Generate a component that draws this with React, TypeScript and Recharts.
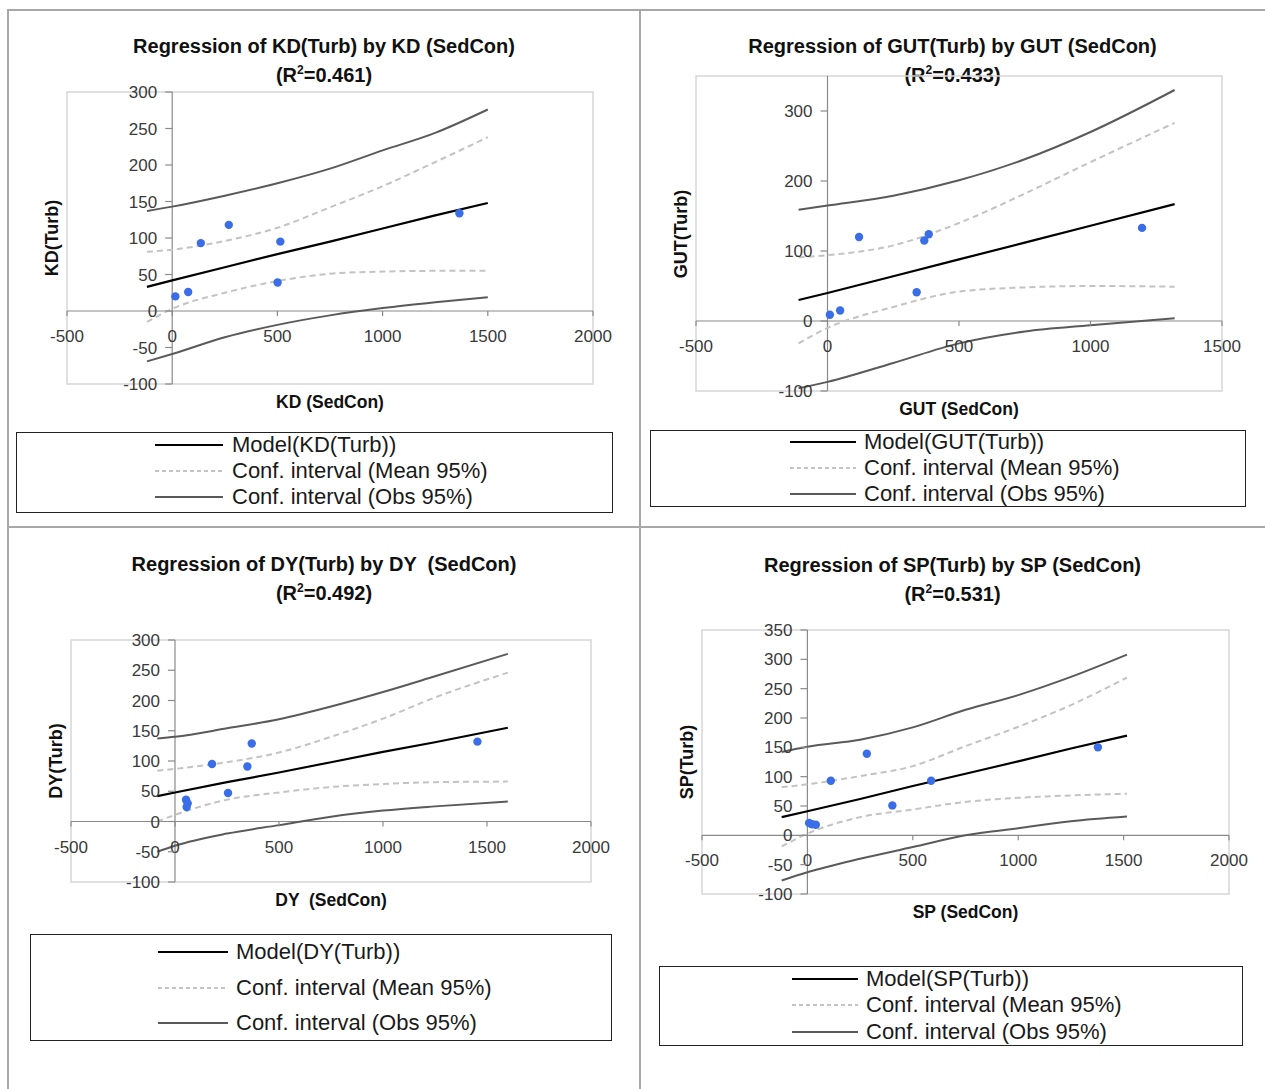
import React from "react";
import {
  ComposedChart,
  Line,
  Scatter,
  XAxis,
  YAxis,
  ReferenceArea,
  ReferenceLine,
  ReferenceDot,
} from "recharts";

const FONT = '"Liberation Sans", Arial, sans-serif';
const BLUE = "#3a6ee8";
const AXIS = "#8a8a8a";
const FRAME = "#a8a8a8";

// ---- KD ----
const kdCurveX = [-120, 0, 250, 500, 750, 1000, 1250, 1500];
const kdModel = [33, 42, 60, 78, 95, 113, 131, 148];
const kdMeanUpper = [81, 84, 96, 114, 142, 171, 204, 238];
const kdMeanLower = [-15, 3, 25, 41, 51, 54, 55, 55];
const kdObsUpper = [137, 143, 158, 175, 195, 220, 244, 276];
const kdObsLower = [-69, -59, -36, -19, -6, 4, 12, 19];
const kdPointX = [15, 76, 136, 269, 514, 501, 1365];
const kdPointY = [20, 26, 93, 118, 95, 39, 134];

// ---- GUT ----
const gutCurveX = [-110, 0, 250, 500, 750, 1000, 1320];
const gutModel = [30, 40, 64, 88, 112, 136, 167];
const gutMeanUpper = [91, 94, 108, 140, 182, 227, 283];
const gutMeanLower = [-32, -10, 20, 42, 48, 50, 49];
const gutObsUpper = [159, 165, 179, 201, 231, 270, 330];
const gutObsLower = [-96, -87, -60, -32, -15, -6, 4];
const gutPointX = [9, 48, 120, 339, 368, 385, 1196];
const gutPointY = [9, 15, 120, 41, 115, 124, 133];

// ---- DY ----
const dyCurveX = [-85, 0, 250, 500, 750, 1000, 1250, 1600];
const dyModel = [42, 48, 65, 81, 98, 115, 131, 155];
const dyMeanUpper = [84, 87, 98, 114, 140, 170, 205, 246];
const dyMeanLower = [0, 11, 36, 48, 57, 62, 65, 66];
const dyObsUpper = [137, 140, 154, 169, 190, 214, 240, 277];
const dyObsLower = [-50, -40, -20, -6, 8, 18, 25, 33];
const dyPointX = [53, 61, 56, 178, 255, 348, 369, 1454];
const dyPointY = [36, 30, 24, 95, 47, 91, 129, 132];

// ---- SP ----
const spCurveX = [-122, 0, 250, 500, 750, 1000, 1250, 1516];
const spModel = [31, 41, 62, 84, 105, 126, 148, 170];
const spMeanUpper = [82, 87, 101, 118, 152, 185, 222, 269];
const spMeanLower = [-19, 3, 31, 44, 57, 64, 68, 71];
const spObsUpper = [142, 151, 163, 184, 214, 239, 270, 308];
const spObsLower = [-77, -63, -40, -20, 0, 12, 24, 32];
const spPointX = [8, 22, 40, 111, 282, 403, 587, 1378];
const spPointY = [21, 19, 18, 93, 139, 51, 93, 150];

const ticks2000 = [-500, 0, 500, 1000, 1500, 2000];
const ticks1500 = [-500, 0, 500, 1000, 1500];
const yTicks300 = [-100, -50, 0, 50, 100, 150, 200, 250, 300];
const yTicks350 = [-100, -50, 0, 50, 100, 150, 200, 250, 300, 350];
const yTicksGut = [-100, 0, 100, 200, 300];

const xy = (xs: number[], ys: number[]) => xs.map((x, i) => ({ x, y: ys[i] }));

const panels = [
  {
    key: "KD",
    title: "Regression of KD(Turb) by KD (SedCon)",
    r2: "0.461",
    xLabel: "KD (SedCon)",
    yLabel: "KD(Turb)",
    model: xy(kdCurveX, kdModel),
    meanU: xy(kdCurveX, kdMeanUpper),
    meanL: xy(kdCurveX, kdMeanLower),
    obsU: xy(kdCurveX, kdObsUpper),
    obsL: xy(kdCurveX, kdObsLower),
    points: xy(kdPointX, kdPointY),
    xDomain: [-500, 2000],
    yDomain: [-100, 300],
    xTicks: ticks2000,
    yTicks: yTicks300,
    box: { l: 67, t: 92, r: 593, b: 384 },
    panel: { l: 8, r: 640, titleY: 46 },
    legend: { l: 16, t: 432, r: 613, b: 513, rows: [445, 471, 497], lineL: 155, lineR: 223, textL: 232 },
  },
  {
    key: "GUT",
    title: "Regression of GUT(Turb) by GUT (SedCon)",
    r2: "0.433",
    xLabel: "GUT (SedCon)",
    yLabel: "GUT(Turb)",
    model: xy(gutCurveX, gutModel),
    meanU: xy(gutCurveX, gutMeanUpper),
    meanL: xy(gutCurveX, gutMeanLower),
    obsU: xy(gutCurveX, gutObsUpper),
    obsL: xy(gutCurveX, gutObsLower),
    points: xy(gutPointX, gutPointY),
    xDomain: [-500, 1500],
    yDomain: [-100, 350],
    xTicks: ticks1500,
    yTicks: yTicksGut,
    box: { l: 696, t: 76, r: 1222, b: 391 },
    panel: { l: 640, r: 1265, titleY: 46 },
    legend: { l: 650, t: 430, r: 1246, b: 507, rows: [442, 468, 494], lineL: 790, lineR: 856, textL: 864 },
  },
  {
    key: "DY",
    title: "Regression of DY(Turb) by DY  (SedCon)",
    r2: "0.492",
    xLabel: "DY  (SedCon)",
    yLabel: "DY(Turb)",
    model: xy(dyCurveX, dyModel),
    meanU: xy(dyCurveX, dyMeanUpper),
    meanL: xy(dyCurveX, dyMeanLower),
    obsU: xy(dyCurveX, dyObsUpper),
    obsL: xy(dyCurveX, dyObsLower),
    points: xy(dyPointX, dyPointY),
    xDomain: [-500, 2000],
    yDomain: [-100, 300],
    xTicks: ticks2000,
    yTicks: yTicks300,
    box: { l: 71, t: 640, r: 591, b: 882 },
    panel: { l: 8, r: 640, titleY: 564 },
    legend: { l: 30, t: 934, r: 612, b: 1041, rows: [952, 988, 1023], lineL: 158, lineR: 228, textL: 236 },
  },
  {
    key: "SP",
    title: "Regression of SP(Turb) by SP (SedCon)",
    r2: "0.531",
    xLabel: "SP (SedCon)",
    yLabel: "SP(Turb)",
    model: xy(spCurveX, spModel),
    meanU: xy(spCurveX, spMeanUpper),
    meanL: xy(spCurveX, spMeanLower),
    obsU: xy(spCurveX, spObsUpper),
    obsL: xy(spCurveX, spObsLower),
    points: xy(spPointX, spPointY),
    xDomain: [-500, 2000],
    yDomain: [-100, 350],
    xTicks: ticks2000,
    yTicks: yTicks350,
    box: { l: 702, t: 630, r: 1229, b: 894 },
    panel: { l: 640, r: 1265, titleY: 565 },
    legend: { l: 659, t: 966, r: 1243, b: 1046, rows: [979, 1005, 1032], lineL: 792, lineR: 858, textL: 866 },
  },
];

const seriesStyle: Record<string, { stroke: string; width: number; dash?: string }> = {
  model: { stroke: "#000000", width: 2.2 },
  mean: { stroke: "#c3c3c3", width: 2, dash: "6 4" },
  obs: { stroke: "#5a5a5a", width: 2 },
};

const M = { top: 20, right: 30, bottom: 50, left: 60 };

const centered = (left: number, top: number, size: number, bold: boolean, rotate = false): React.CSSProperties => ({
  position: "absolute",
  left,
  top,
  transform: rotate ? "translate(-50%,-50%) rotate(-90deg)" : "translate(-50%,-50%)",
  fontFamily: FONT,
  fontWeight: bold ? "bold" : "normal",
  fontSize: size,
  whiteSpace: "pre",
  color: "#111",
});

function Panel({ p }: { p: (typeof panels)[number] }) {
  const { box, panel, legend } = p;
  const w = box.r - box.l + M.left + M.right;
  const h = box.b - box.t + M.top + M.bottom;
  const titleCx = (panel.l + panel.r) / 2;
  const legendLabels = [`Model(${p.key}(Turb))`, "Conf. interval (Mean 95%)", "Conf. interval (Obs 95%)"];
  const legendKinds = ["model", "mean", "obs"];

  const curve = (data: { x: number; y: number }[], kind: string, name: string, type: "linear" | "monotone") => (
    <Line
      data={data}
      dataKey="y"
      name={name}
      type={type}
      dot={false}
      activeDot={false}
      stroke={seriesStyle[kind].stroke}
      strokeWidth={seriesStyle[kind].width}
      strokeDasharray={seriesStyle[kind].dash}
      isAnimationActive={false}
    />
  );

  return (
    <>
      <div style={centered(titleCx, panel.titleY, 20, true)}>{p.title}</div>
      <div style={centered(titleCx, panel.titleY + 29, 20, true)}>
        (R<sup style={{ fontSize: 12 }}>2</sup>={p.r2})
      </div>
      <div style={{ position: "absolute", left: box.l - M.left, top: box.t - M.top }}>
        <ComposedChart width={w} height={h} margin={M}>
          <XAxis type="number" dataKey="x" domain={p.xDomain} allowDataOverflow hide />
          <YAxis type="number" dataKey="y" domain={p.yDomain} allowDataOverflow hide />
          <ReferenceArea x1={p.xDomain[0]} x2={p.xDomain[1]} y1={p.yDomain[0]} y2={p.yDomain[1]} fill="none" stroke="#d6d6d6" strokeWidth={1.5} ifOverflow="visible" />
          <ReferenceLine y={0} stroke={AXIS} strokeWidth={1.2} />
          <ReferenceLine x={0} stroke={AXIS} strokeWidth={1.2} />
          {p.xTicks.map((t) => (
            <ReferenceDot
              key={"x" + t}
              x={t}
              y={0}
              r={1}
              ifOverflow="visible"
              shape={(s: any) => (
                <g>
                  <line x1={s.cx} x2={s.cx} y1={s.cy} y2={s.cy + 5} stroke={AXIS} strokeWidth={1.2} />
                  <text x={s.cx} y={s.cy + 31} textAnchor="middle" fontSize={17} fontFamily={FONT} fill="#3a3a3a">
                    {t}
                  </text>
                </g>
              )}
            />
          ))}
          {p.yTicks.map((t) => (
            <ReferenceDot
              key={"y" + t}
              x={0}
              y={t}
              r={1}
              ifOverflow="visible"
              shape={(s: any) => (
                <g>
                  <line x1={s.cx - 7} x2={s.cx} y1={s.cy} y2={s.cy} stroke={AXIS} strokeWidth={1.2} />
                  <text x={s.cx - 15} y={s.cy + 6} textAnchor="end" fontSize={17} fontFamily={FONT} fill="#3a3a3a">
                    {t}
                  </text>
                </g>
              )}
            />
          ))}
          {curve(p.obsU, "obs", "Conf. interval (Obs 95%)", "monotone")}
          {curve(p.obsL, "obs", "Conf. interval (Obs 95%) lower", "monotone")}
          {curve(p.meanU, "mean", "Conf. interval (Mean 95%)", "monotone")}
          {curve(p.meanL, "mean", "Conf. interval (Mean 95%) lower", "monotone")}
          {curve(p.model, "model", `Model(${p.key}(Turb))`, "linear")}
          <Scatter
            data={p.points}
            dataKey="y"
            isAnimationActive={false}
            shape={(s: any) => <circle cx={s.cx} cy={s.cy} r={4.2} fill={BLUE} />}
          />
        </ComposedChart>
      </div>
      <div style={centered((box.l + box.r) / 2, box.b + 18, 17.5, true)}>{p.xLabel}</div>
      <div style={centered(box.l - 15, (box.t + box.b) / 2, 18, true, true)}>{p.yLabel}</div>
      <div style={{ position: "absolute", left: legend.l, top: legend.t, width: legend.r - legend.l, height: legend.b - legend.t, border: "1.5px solid #222", boxSizing: "border-box" }} />
      {legend.rows.map((ry, i) => {
        const st = seriesStyle[legendKinds[i]];
        return (
          <React.Fragment key={i}>
            <svg style={{ position: "absolute", left: legend.lineL, top: ry - 5 }} width={legend.lineR - legend.lineL} height={10}>
              <line x1={0} x2={legend.lineR - legend.lineL} y1={5} y2={5} stroke={st.stroke} strokeWidth={st.width} strokeDasharray={st.dash ? "4 3" : undefined} />
            </svg>
            <div style={{ position: "absolute", left: legend.textL, top: ry - 13, height: 26, lineHeight: "26px", fontFamily: FONT, fontSize: 22, whiteSpace: "pre", color: "#1a1a1a" }}>
              {legendLabels[i]}
            </div>
          </React.Fragment>
        );
      })}
    </>
  );
}

export default function App() {
  return (
    <div style={{ position: "absolute", left: 0, top: 0, width: 1265, height: 1089, background: "#fff", overflow: "hidden" }}>
      <div style={{ position: "absolute", left: 7, top: 9, width: 1258, height: 2, background: FRAME }} />
      <div style={{ position: "absolute", left: 7, top: 9, width: 2, height: 1080, background: FRAME }} />
      <div style={{ position: "absolute", left: 639, top: 9, width: 2, height: 1080, background: FRAME }} />
      <div style={{ position: "absolute", left: 7, top: 526, width: 1258, height: 2, background: FRAME }} />
      {panels.map((p) => (
        <Panel key={p.key} p={p} />
      ))}
    </div>
  );
}
